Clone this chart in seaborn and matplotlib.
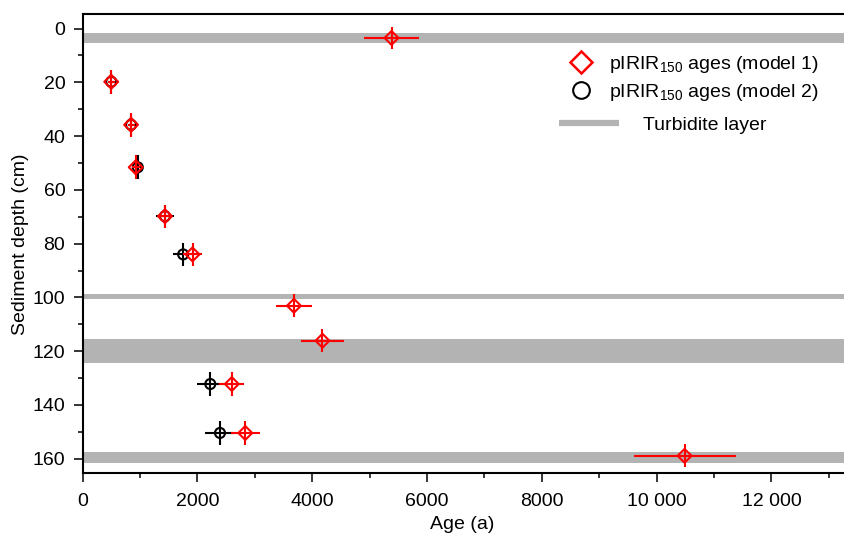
import numpy as np
import pandas as pd
import matplotlib
matplotlib.use("Agg")
import matplotlib.pyplot as plt
from matplotlib.lines import Line2D
from matplotlib.ticker import MultipleLocator
import seaborn as sns

# pIRIR150 ages, model 1
depth_m1 = [3.5, 19.8, 35.8, 51.6, 69.8, 84.0, 103.1, 116.1, 132.2, 150.4, 158.9]
age_m1 = [5380, 497, 843, 924, 1433, 1913, 3680, 4177, 2598, 2832, 10486]
age_err_m1 = [478, 60, 60, 70, 100, 174, 315, 372, 220, 250, 890]
depth_err_m1 = [4.2, 4.4, 4.4, 4.4, 4.3, 4.3, 4.3, 4.3, 4.3, 4.3, 4.3]

# pIRIR150 ages, model 2
depth_m2 = [19.8, 35.8, 51.6, 69.8, 84.0, 132.2, 150.4]
age_m2 = [497, 843, 960, 1433, 1750, 2223, 2392]
age_err_m2 = [60, 60, 70, 160, 176, 240, 270]
depth_err_m2 = [4.4, 4.4, 4.4, 4.3, 4.3, 4.3, 4.3]

# Turbidite layers (top, bottom) in cm
turbidite_top = [1.5, 98.6, 115.3, 157.3]
turbidite_bottom = [5.3, 100.6, 124.2, 161.6]

x_ticks = [0, 2000, 4000, 6000, 8000, 10000, 12000]
x_tick_labels = ["0", "2000", "4000", "6000", "8000", "10 000", "12 000"]

sns.set_theme(style="ticks")
plt.rcParams["font.family"] = ["Liberation Sans", "DejaVu Sans"]
plt.rcParams["mathtext.fontset"] = "custom"
plt.rcParams["mathtext.rm"] = "Liberation Sans"
plt.rcParams["text.color"] = "black"
plt.rcParams["axes.labelcolor"] = "black"

FS = 14

df1 = pd.DataFrame({"age": age_m1, "depth": depth_m1})
df2 = pd.DataFrame({"age": age_m2, "depth": depth_m2})

W, H = 845, 536
ax_left, ax_top, ax_bottom = 82.7, 14.0, 473.3
ax_width = W - ax_left + 8.0
ax_height = ax_bottom - ax_top

fig = plt.figure(figsize=(W / 100, H / 100), dpi=100)
ax = fig.add_axes([ax_left / W, 1 - ax_bottom / H, ax_width / W, ax_height / H])


def ax_xy(px, py):
    """Pixel position in the figure -> axes fraction."""
    return (px - ax_left) / ax_width, 1 - (py - ax_top) / ax_height


band_color = "#b3b3b3"
for t, b in zip(turbidite_top, turbidite_bottom):
    ax.axhspan(t, b, color=band_color, lw=0, zorder=1)

# model 2 (black circles) underneath
ax.errorbar(age_m2, depth_m2, xerr=age_err_m2, yerr=depth_err_m2, fmt="none",
            ecolor="black", elinewidth=1.5, capsize=0, zorder=3)
sns.scatterplot(data=df2, x="age", y="depth", ax=ax, marker="o", s=52,
                facecolor="none", edgecolor="black", linewidth=1.5, zorder=4)

# model 1 (red diamonds) on top
ax.errorbar(age_m1, depth_m1, xerr=age_err_m1, yerr=depth_err_m1, fmt="none",
            ecolor="red", elinewidth=1.5, capsize=0, zorder=5)
sns.scatterplot(data=df1, x="age", y="depth", ax=ax, marker="D", s=50,
                facecolor="none", edgecolor="red", linewidth=1.5, zorder=6)

ax.set_xlim(0, 13420)
ax.set_ylim(165.4, -5.4)

ax.set_xticks(x_ticks)
ax.set_xticklabels(x_tick_labels)
ax.xaxis.set_minor_locator(MultipleLocator(1000))
ax.set_yticks(np.arange(0, 161, 20))
ax.yaxis.set_minor_locator(MultipleLocator(10))

ax.tick_params(axis="both", which="major", direction="out", length=6.5, width=1.1,
               labelsize=FS, color="black", labelcolor="black", pad=6)
ax.tick_params(axis="x", which="major", pad=8)
ax.tick_params(axis="both", which="minor", direction="out", length=3.5, width=1.1,
               color="black")

for side in ["left", "bottom", "top"]:
    ax.spines[side].set_linewidth(1.5)
    ax.spines[side].set_color("black")
ax.spines["right"].set_visible(False)

ax.set_xlabel("Age (a)", fontsize=FS, color="black")
ax.set_ylabel("Sediment depth (cm)", fontsize=FS, color="black")
ax.xaxis.set_label_coords(*ax_xy(462, 516))
ax.yaxis.set_label_coords(*ax_xy(29, 244))

# legend: model markers
marker_handles = [
    Line2D([], [], ls="none", marker="D", ms=11, mfc="none", mec="red", mew=1.8),
    Line2D([], [], ls="none", marker="o", ms=12, mfc="none", mec="black", mew=1.5),
]
marker_labels = [r"pIRIR$_{\mathregular{150}}$ ages (model 1)",
                 r"pIRIR$_{\mathregular{150}}$ ages (model 2)"]
leg1 = ax.legend(marker_handles, marker_labels, loc="upper left",
                 bbox_to_anchor=ax_xy(571, 54),
                 frameon=False, fontsize=FS, handlelength=1.0, handletextpad=0.94,
                 labelspacing=0.35, borderaxespad=0, borderpad=0)
ax.add_artist(leg1)

# legend: turbidite layer
band_handle = [Line2D([], [], color=band_color, lw=4.5, solid_capstyle="butt")]
ax.legend(band_handle, ["Turbidite layer"], loc="upper left",
          bbox_to_anchor=ax_xy(559, 116),
          frameon=False, fontsize=FS, handlelength=3.1, handletextpad=1.24,
          borderaxespad=0, borderpad=0)

fig.savefig("out.png", dpi=100)
